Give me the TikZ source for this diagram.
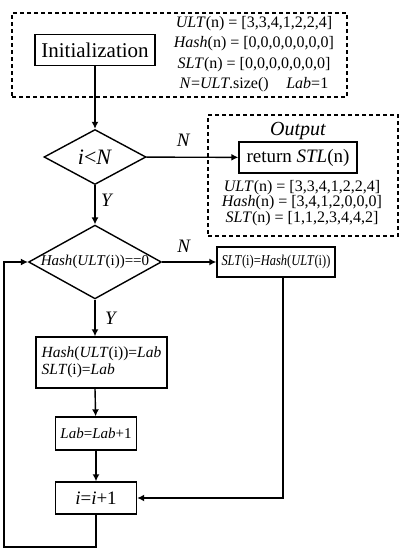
\documentclass[tikz,border=0pt]{standalone}
\usepackage{fontspec}
\setmainfont{Liberation Serif}
\usetikzlibrary{positioning,arrows.meta,shapes.geometric,calc}

\begin{document}
\begin{tikzpicture}[
			x=1pt, y=-1pt,
			>={Latex[length=7pt,width=7pt]},
			% Define styles for the flowchart shapes
			process/.style={rectangle, draw, line width=1.4pt, align=center, inner sep=0pt, fill=white},
			decision/.style={diamond, draw, line width=1.4pt, align=center, inner sep=0pt, aspect=1.8},
			group/.style={rectangle, draw, line width=1.3pt, dash pattern=on 4pt off 3pt, inner sep=0pt},
			arrow/.style={->, line width=1.4pt, color=black},
			branch/.style={font=\fontsize{19}{23}\selectfont\itshape}
			]
			\useasboundingbox (0,0) rectangle (402,552);
			
			% --- Dashed groups ---
			\node (initgroup) [group, minimum width=335pt, minimum height=84pt] at (179.5,55) {};
			\node (outgroup) [group, minimum width=190pt, minimum height=121pt] at (303,175.5) {};
			
			% --- Nodes ---
			\node (init) [process, minimum width=120pt, minimum height=31pt, font=\fontsize{21}{25}\selectfont] at (95,50) {Initialization};
			\node (initvals) [align=center, font=\fontsize{16}{20.3}\selectfont] at (254,54) {\textit{ULT}(n) = [3,3,4,1,2,2,4]\\ \textit{Hash}(n) = [0,0,0,0,0,0,0]\\ \textit{SLT}(n) = [0,0,0,0,0,0,0]\\ \textit{N}=\textit{ULT}.size()\hspace{1.1em}\textit{Lab}=1};
			
			\node (cond1) [decision, minimum width=102pt, minimum height=55pt, font=\fontsize{22}{26}\selectfont] at (95,157) {\textit{i}<\textit{N}};
			
			% Right side: output
			\node (outtitle) [font=\fontsize{20}{24}\selectfont\itshape] at (298,131) {Output};
			\node (ret) [process, minimum width=118pt, minimum height=31pt, font=\fontsize{19}{23}\selectfont] at (298,157.5) {return \textit{STL}(n)};
			\node (outvals) [align=center, font=\fontsize{16}{15.5}\selectfont] at (302,203) {\textit{ULT}(n) = [3,3,4,1,2,2,4]\\ \textit{Hash}(n) = [3,4,1,2,0,0,0]\\ \textit{SLT}(n) = [1,1,2,3,4,4,2]};
			
			\node (cond2) [decision, minimum width=131pt, minimum height=73pt, font=\fontsize{15}{18}\selectfont] at (95,262) {\textit{Hash}(\textit{ULT}(i))==0};
			
			\node (assign) [process, minimum width=118pt, minimum height=30pt, font=\fontsize{15}{18}\selectfont] at (276,262) {\scalebox{0.83}[1]{\textit{SLT}(i)=\textit{Hash}(\textit{ULT}(i))}};
			
			\node (update) [process, minimum width=131pt, minimum height=51pt, align=left, font=\fontsize{15.5}{16.5}\selectfont] at (101.5,362.5) {\textit{Hash}(\textit{ULT}(i))=\textit{Lab}\\ \textit{SLT}(i)=\textit{Lab}};
			
			\node (labinc) [process, minimum width=81pt, minimum height=33pt, font=\fontsize{15}{18}\selectfont] at (96,433.5) {\textit{Lab}=\textit{Lab}+1};
			
			\node (iinc) [process, minimum width=81pt, minimum height=32pt, font=\fontsize{19}{23}\selectfont] at (96,498) {\textit{i}=\textit{i}+1};
			
			\coordinate (loop) at (4,547);
			
			% --- Arrows ---
			\draw[arrow] (init) -- (cond1);
			\draw[arrow] (cond1) -- node[branch, above, pos=0.4, yshift=7pt] {N} (ret);
			\draw[arrow] (cond1) -- node[branch, right, pos=0.38, xshift=2pt] {Y} (cond2);
			\draw[arrow] (cond2) -- node[branch, above, pos=0.4, yshift=5pt] {N} (assign);
			\draw[arrow] (cond2.south) -- node[branch, right, xshift=6pt] {Y} (cond2.south |- update.north);
			\draw[arrow] (cond2.south |- update.south) -- (labinc);
			\draw[arrow] (labinc) -- (iinc);
			
			% Rejoining and loop back
			\draw[arrow] ([xshift=7pt]assign.south) |- (iinc);
			\draw[arrow] (iinc) |- (loop) |- (cond2.west);
			
		\end{tikzpicture}
\end{document}
